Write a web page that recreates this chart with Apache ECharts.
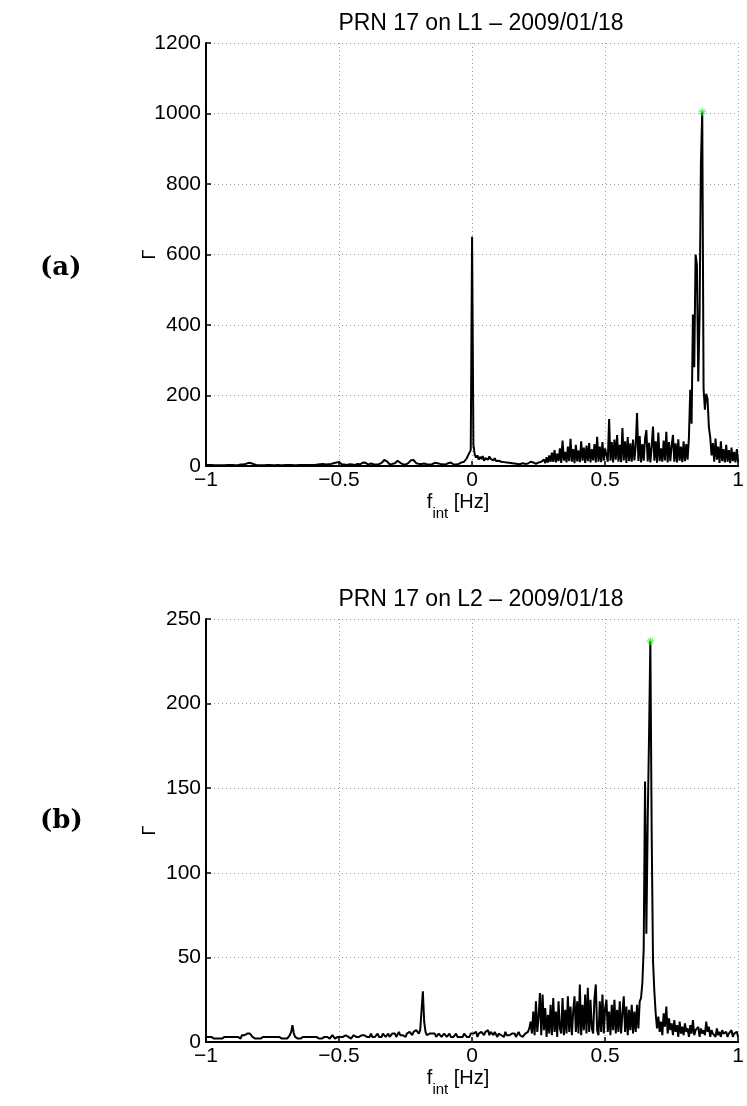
<!DOCTYPE html>
<html>
<head>
<meta charset="utf-8">
<script src="https://cdn.jsdelivr.net/npm/echarts@6/dist/echarts.min.js"></script>
<style>html,body{margin:0;padding:0;background:#fff}#c{width:747px;height:1106px}</style>
</head>
<body>
<div id="c"></div>
<script>
// sampling grid of the spectra
const freqStart = -1;
const freqStep = 0.005;
const xTickLabels = ['\u22121', '\u22120.5', '0', '0.5', '1'];
const yTicksL1 = [0, 200, 400, 600, 800, 1000, 1200];
const yTicksL2 = [0, 50, 100, 150, 200, 250];
const titles = ['PRN 17 on L1 \u2013 2009/01/18', 'PRN 17 on L2 \u2013 2009/01/18'];
const panelLabels = ['(a)', '(b)'];

const gammaL1 = [
3,2,3,2,3,2,2,3,2,3,
2,3,2,3,2,2,3,2,3,2,
3,2,2,3,2,3,4,3,4,5,
6,8,9,11,8,6,5,4,3,3,
2,3,2,3,2,2,3,2,3,2,
2,3,2,2,3,2,2,3,2,2,
3,2,3,2,3,3,2,3,2,3,
3,2,3,4,3,2,3,4,3,2,
3,4,3,5,4,3,5,4,6,5,
4,6,5,7,6,5,8,7,10,8,
11,
7,5,6,4,5,3,4,5,3,4,
5,3,4,6,4,5,7,10,14,9,
6,4,5,7,4,5,6,4,7,5,
6,9,12,17,19,13,8,5,7,6,
5,8,11,15,13,9,6,5,7,4,
6,8,11,16,19,17,12,8,5,6,
4,6,5,7,4,5,6,4,7,5,
6,9,11,8,5,6,4,5,7,4,
6,8,12,10,7,5,6,4,8,6,
7,10,8,12,15,22,30,38,45,
650,
60,32,24,30,18,26,20,28,15,22,
25,18,27,20,24,16,22,14,19,15,
17,12,15,11,14,10,12,9,11,8,
9,7,8,6,7,5,6,8,5,6,
5,7,9,12,15,10,7,6,8,10,
7,12,9,18,8,25,10,30,12,38,
12,45,10,35,14,50,9,72,15,40,
10,55,14,77,12,48,8,60,13,44,
11,70,15,52,9,58,14,65,10,48,
16,62,10,83,12,55,11,68,15,50,
45,12,133,15,68,10,75,18,88,12,
60,11,108,16,70,9,82,14,64,12,
75,16,58,150,14,85,10,62,15,78,
102,13,66,10,55,112,15,70,9,95,
14,50,12,72,16,97,10,68,14,58,
88,12,64,10,76,15,55,11,70,14,
62,18,82,216,120,430,280,600,570,240,
430,858,1005,220,160,205,190,110,82,30,
65,12,78,18,55,9,70,14,48,10,
60,12,45,8,52,14,40,10,48,12
];

const gammaL2 = [
3,2,3,2,3,3,2,3,2,3,
2,3,2,3,3,2,3,2,3,2,
3,2,3,2,3,3,2,4,3,4,
4,5,6,5,4,3,3,2,3,2,
3,2,3,3,2,3,2,3,2,3,
2,3,2,3,2,3,3,2,3,2,
3,2,3,4,6,10,5,3,3,2,
3,2,3,3,2,3,2,3,2,3,
2,3,2,3,3,2,3,2,3,3,
2,3,3,2,3,4,3,2,3,3,
3,
3,4,3,2,4,3,3,4,2,3,
4,3,3,4,3,2,4,3,4,3,
3,4,3,5,3,4,3,4,5,3,
4,3,5,4,3,4,5,3,4,5,
4,5,3,4,6,4,5,4,5,3,
5,4,6,5,4,6,5,7,6,5,
7,8,30,12,6,4,3,5,4,5,
4,5,3,4,5,4,3,4,5,4,
3,4,5,3,4,3,4,5,3,4,
3,4,3,5,4,3,4,3,5,4,
5,4,6,3,5,4,6,5,4,6,
5,7,4,6,5,4,6,5,3,5,
6,4,5,3,6,4,5,4,3,5,
4,5,3,4,6,4,5,3,4,5,
4,6,8,12,5,18,4,24,6,15,
29,4,28,7,20,3,16,5,22,4,
26,6,18,3,24,8,5,26,4,19,
5,27,6,21,4,18,27,6,24,5,
34,4,22,7,28,5,32,6,25,8,
5,26,34,7,4,24,6,28,5,20,
25,6,18,4,22,7,25,5,19,6,
24,5,17,27,6,21,4,19,7,22,
5,18,6,22,8,24,26,35,55,154,
64,130,180,237,123,48,30,17,8,15,
6,12,4,17,9,21,5,14,7,11,
4,13,6,10,3,12,5,9,4,11,
6,8,3,10,5,13,4,7,6,9,
3,8,5,7,4,12,6,9,3,7,
5,6,3,8,4,6,3,7,5,4,
6,3,5,4,7,3,5,4,6,3
];

const peakL1 = [0.865, 1005];
const peakL2 = [0.67, 237];

const toPairs = arr => arr.map((v, i) => [+(freqStart + i * freqStep).toFixed(3), v]);

const FONT = 'Liberation Sans';
const star = 'path://M4.4,0h1.2v10h-1.2z M0,4.4h10v1.2h-10z M1.3,2.1l0.8,-0.8l6.6,6.6l-0.8,0.8z M7.9,1.3l0.8,0.8l-6.6,6.6l-0.8,-0.8z';

const gridTop = [43, 619];
const gridH = 423;

function xAxisFor(gi) {
  return {
    type: 'value', gridIndex: gi, min: -1, max: 1, interval: 0.5,
    axisLine: { show: true, onZero: false, lineStyle: { color: '#000', width: 2 } },
    axisTick: { show: true, inside: true, length: 5, lineStyle: { color: '#000', width: 1.5 } },
    axisLabel: {
      color: '#000', fontFamily: FONT, fontSize: 21, margin: 4,
      formatter: v => xTickLabels[Math.round((v + 1) / 0.5)]
    },
    splitLine: { show: true, lineStyle: { color: '#9a9a9a', type: [1, 3], width: 1 } },
    name: '{f|f}{s|int}{h| [Hz]}', nameLocation: 'middle', nameGap: 26, nameMoveOverlap: false,
    nameTextStyle: {
      rich: {
        f: { fontFamily: FONT, fontSize: 20, color: '#000', verticalAlign: 'top' },
        h: { fontFamily: FONT, fontSize: 20, color: '#000', verticalAlign: 'top', padding: [0, 28, 0, 0] },
        s: { fontFamily: FONT, fontSize: 15, color: '#000', padding: [14, 0, 0, 0], verticalAlign: 'top' }
      }
    }
  };
}
function yAxisFor(gi, ticks, interval) {
  return {
    type: 'value', gridIndex: gi, min: ticks[0], max: ticks[ticks.length - 1], interval: interval,
    axisLine: { show: true, onZero: false, lineStyle: { color: '#000', width: 2 } },
    axisTick: { show: true, inside: true, length: 5, lineStyle: { color: '#000', width: 1.5 } },
    axisLabel: { color: '#000', fontFamily: FONT, fontSize: 21, margin: 5, formatter: v => String(v) },
    splitLine: { show: true, lineStyle: { color: '#9a9a9a', type: [1, 3], width: 1 } },
    name: '\u0393', nameLocation: 'middle', nameGap: 47, nameMoveOverlap: false,
    nameTextStyle: { fontFamily: FONT, fontSize: 18, color: '#000' }
  };
}

const chart = echarts.init(document.getElementById('c'), null, { renderer: 'canvas' });
chart.setOption({
  animation: false,
  backgroundColor: '#fff',
  title: [
    { text: titles[0], left: 476, top: 7, textAlign: 'center',
      textStyle: { fontFamily: FONT, fontSize: 23, fontWeight: 'normal', color: '#000' } },
    { text: titles[1], left: 476, top: 583, textAlign: 'center',
      textStyle: { fontFamily: FONT, fontSize: 23, fontWeight: 'normal', color: '#000' } },
    { text: panelLabels[0], left: 35, top: 250,
      textStyle: { fontFamily: 'DejaVu Serif', fontSize: 26, fontWeight: 'bold', color: '#000' } },
    { text: panelLabels[1], left: 35, top: 803,
      textStyle: { fontFamily: 'DejaVu Serif', fontSize: 26, fontWeight: 'bold', color: '#000' } }
  ],
  grid: [
    { left: 206, top: gridTop[0], width: 540, height: gridH },
    { left: 206, top: gridTop[1], width: 540, height: gridH }
  ],
  xAxis: [xAxisFor(0), xAxisFor(1)],
  yAxis: [yAxisFor(0, yTicksL1, 200), yAxisFor(1, yTicksL2, 50)],
  series: [
    { type: 'line', xAxisIndex: 0, yAxisIndex: 0, data: toPairs(gammaL1), showSymbol: false,
      sampling: null, lineStyle: { color: '#000', width: 2 }, z: 3 },
    { type: 'line', xAxisIndex: 1, yAxisIndex: 1, data: toPairs(gammaL2), showSymbol: false,
      sampling: null, lineStyle: { color: '#000', width: 2 }, z: 3 },
    { type: 'scatter', xAxisIndex: 0, yAxisIndex: 0, data: [peakL1], symbol: star, symbolSize: 8,
      itemStyle: { color: '#22ee22' }, z: 5 },
    { type: 'scatter', xAxisIndex: 1, yAxisIndex: 1, data: [peakL2], symbol: star, symbolSize: 8,
      itemStyle: { color: '#22ee22' }, z: 5 }
  ]
});
</script>
</body>
</html>
